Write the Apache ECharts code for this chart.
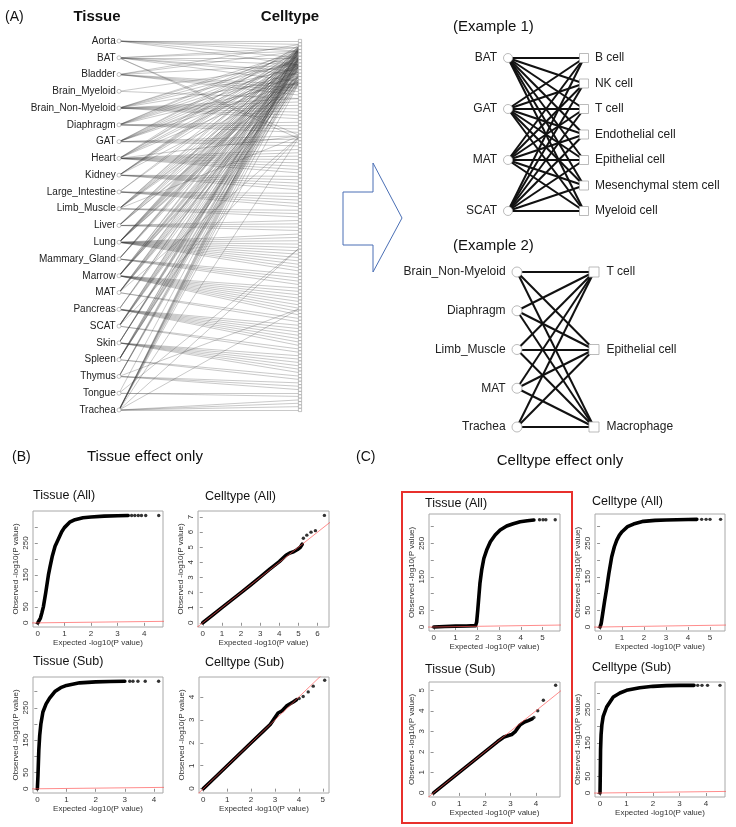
<!DOCTYPE html>
<html><head><meta charset="utf-8">
<script src="https://cdn.jsdelivr.net/npm/echarts@6/dist/echarts.min.js"></script>
<style>html,body{margin:0;padding:0;background:#fff}#c{width:736px;height:827px}</style>
</head><body><div id="c"></div>
<script>
const FONT = '"Liberation Sans", Arial, Helvetica, sans-serif';

// ---------- Panel A data ----------
const tissues = ['Aorta','BAT','Bladder','Brain_Myeloid','Brain_Non-Myeloid','Diaphragm','GAT','Heart','Kidney','Large_Intestine','Limb_Muscle','Liver','Lung','Mammary_Gland','Marrow','MAT','Pancreas','SCAT','Skin','Spleen','Thymus','Tongue','Trachea'];
const cellTypeCount = 110;
const tissueCellLinks = [
  [0,1,2,3,5,7],
  [2,3,5,7,9,10,12,28,29],
  [1,3,7,13,14,15,16],
  [7,17],
  [3,4,6,8,11,17,18,19,20,21,22,23],
  [2,3,5,7,9,12,24,25,26,27],
  [2,3,5,7,9,10,12,28,29,30,31],
  [1,3,4,7,9,12,28,32,33,34,35,36,37,38,39],
  [2,3,4,5,7,12,40,41,42,43,44],
  [4,6,45,46,47,48,49],
  [2,3,5,7,9,10,12,28,50,51,52],
  [2,3,5,7,10,11,53,54,55,56],
  [1,2,3,4,5,6,7,8,10,11,12,57,58,59,60,61,62,63,64,65,66,67,68],
  [2,3,4,5,7,69,70,71,72],
  [1,2,5,6,7,8,10,11,12,73,74,75,76,77,78,79,80,81],
  [2,3,5,7,9,10,12,28,82,83],
  [3,4,7,84,85,86,87,88,89,90],
  [2,3,5,7,9,10,12,28,91,92],
  [3,4,5,6,7,93,94,95,96,97,98],
  [1,2,5,6,8,10,11,12,99,100],
  [2,4,5,7,79,101,102,103],
  [4,61,104,105],
  [1,2,3,4,5,7,9,12,28,61,79,106,107,108,109]
];

const ex1Tissues = ['BAT','GAT','MAT','SCAT'];
const ex1Cells = ['B cell','NK cell','T cell','Endothelial cell','Epithelial cell','Mesenchymal stem cell','Myeloid cell'];
const ex1Links = [[0,1,2,3,4,5,6],[0,1,2,3,4,5,6],[0,1,2,3,4,5,6],[0,1,2,3,4,5,6]];

const ex2Tissues = ['Brain_Non-Myeloid','Diaphragm','Limb_Muscle','MAT','Trachea'];
const ex2Cells = ['T cell','Epithelial cell','Macrophage'];
const ex2Links = [[0,1,2],[0,1,2],[0,1,2],[0,1,2],[0,1,2]];

// ---------- QQ plot data ----------
const qqTitles = ['Tissue (All)','Celltype (All)','Tissue (Sub)','Celltype (Sub)','Tissue (All)','Celltype (All)','Tissue (Sub)','Celltype (Sub)'];
const refLine = [[-1,-1],[8,8]];

const bTissueAllCurve = [[0,0],[0.05,5],[0.1,15],[0.15,30],[0.21,50],[0.3,95],[0.4,150],[0.46,175],[0.55,210],[0.65,240],[0.78,263],[0.9,285],[1.0,298],[1.2,315],[1.4,323],[1.7,329],[2,331],[2.5,334],[3,335],[3.4,336]];
const bTissueAllTail = [[3.53,336],[3.65,336],[3.78,336],[3.9,336],[4.06,336],[4.55,336]];
const bCellAllCurve = [[0,0],[0.5,0.5],[1,1],[1.5,1.5],[2,2],[2.5,2.5],[3,3.02],[3.5,3.55],[4,4.05],[4.35,4.47],[4.55,4.62],[4.75,4.7],[4.95,4.85],[5.1,5.0],[5.2,5.2]];
const bCellAllTail = [[5.26,5.6],[5.44,5.8],[5.66,6.0],[5.89,6.1],[6.36,7.11]];
const bTissueSubCurve = [[0,0],[0.02,40],[0.05,120],[0.08,165],[0.12,200],[0.19,237],[0.3,262],[0.42,280],[0.6,300],[0.8,312],[1.0,319],[1.45,327],[2,330],[2.5,331],[3,332]];
const bTissueSubTail = [[3.17,332],[3.28,332],[3.45,332],[3.7,332],[4.16,332]];
const bCellSubCurve = [[0,0],[0.5,0.5],[1,1],[1.5,1.5],[2,2],[2.5,2.5],[2.8,2.8],[3.13,3.3],[3.3,3.4],[3.48,3.6],[3.6,3.68],[3.76,3.78],[3.9,3.88]];
const bCellSubTail = [[4.01,3.93],[4.18,4.02],[4.39,4.22],[4.6,4.47],[5.08,4.73]];
const cTissueAllCurve = [[0,0],[0.5,1.5],[1,2.5],[1.5,3],[1.92,4],[1.97,15],[2.02,50],[2.07,90],[2.12,130],[2.2,170],[2.3,205],[2.43,230],[2.6,255],[2.82,275],[3.05,290],[3.35,302],[3.65,309],[3.97,315],[4.3,318],[4.6,320]];
const cTissueAllTail = [[4.86,321],[5.02,321],[5.15,321],[5.58,321]];
const cCellAllCurve = [[0,0],[0.05,10],[0.12,40],[0.2,75],[0.3,115],[0.4,160],[0.53,210],[0.65,240],[0.76,260],[0.88,275],[1.0,285],[1.25,300],[1.52,308],[1.97,316],[2.5,319],[3,320],[3.5,321],[4,321.5],[4.4,322]];
const cCellAllTail = [[4.62,322],[4.82,322],[5.0,322],[5.48,322]];
const cTissueSubCurve = [[0,0],[0.5,0.5],[1,1],[1.5,1.5],[2,2],[2.5,2.5],[2.75,2.72],[2.9,2.78],[3.05,2.84],[3.2,3.0],[3.37,3.3],[3.55,3.45],[3.7,3.52],[3.85,3.6]];
const cTissueSubTail = [[3.92,3.67],[4.07,4.0],[4.29,4.51],[4.77,5.24]];
const cCellSubCurve = [[0,0],[0.01,60],[0.02,130],[0.04,175],[0.07,205],[0.12,230],[0.25,258],[0.5,288],[0.75,300],[1,308],[1.5,316],[2,320],[2.5,322],[3,323],[3.55,323]];
const cCellSubTail = [[3.69,323],[3.85,323],[4.06,323],[4.53,323]];

const qqCurves = [bTissueAllCurve,bCellAllCurve,bTissueSubCurve,bCellSubCurve,cTissueAllCurve,cCellAllCurve,cTissueSubCurve,cCellSubCurve];
const qqTails = [bTissueAllTail,bCellAllTail,bTissueSubTail,bCellSubTail,cTissueAllTail,cCellAllTail,cTissueSubTail,cCellSubTail];
const qqXRange = [[-0.18,4.71],[-0.25,6.6],[-0.15,4.31],[-0.18,5.26],[-0.22,5.8],[-0.23,5.68],[-0.18,4.94],[-0.19,4.72]];
const qqYRange = [[-13,350],[-0.28,7.4],[-13,345],[-0.19,4.87],[-12,338],[-12,338],[-0.2,5.4],[-12,333]];
const qqXTicks = [[0,1,2,3,4],[0,1,2,3,4,5,6],[0,1,2,3,4],[0,1,2,3,4,5],[0,1,2,3,4,5],[0,1,2,3,4,5],[0,1,2,3,4],[0,1,2,3,4]];
const bigYTicks = [0,50,100,150,200,250,300];
const bigYLabels = [0,50,150,250];
const qqYTicks = [bigYTicks,[0,1,2,3,4,5,6,7],bigYTicks,[0,1,2,3,4],bigYTicks,bigYTicks,[0,1,2,3,4,5],bigYTicks];
const qqYLabels = [bigYLabels,[0,1,2,3,4,5,6,7],bigYLabels,[0,1,2,3,4],bigYLabels,bigYLabels,[0,1,2,3,4,5],bigYLabels];

// ---------- layout ----------
const L = {
  A: {left:119, top:41, width:181, height:369},
  ex1: {left:508, top:58, width:76, height:153},
  ex2: {left:517, top:272, width:77, height:155},
  qq: [
    {left:33, top:511, width:130, height:116},
    {left:198, top:511, width:131, height:116},
    {left:33, top:677, width:130, height:116},
    {left:199, top:677, width:130, height:116},
    {left:429, top:514, width:131, height:117},
    {left:595, top:514, width:130, height:117},
    {left:429, top:682, width:131, height:115},
    {left:595, top:682, width:130, height:115}
  ],
  qqTitlePos: [[33,496],[205,497],[33,662],[205,663],[425,504],[592,502],[425,670],[592,668]]
};

const grids = [], xAxes = [], yAxes = [], series = [];
function hiddenCoord(box){
  grids.push(Object.assign({show:false, outerBoundsMode:'none', containLabel:false}, box));
  const gi = grids.length-1;
  xAxes.push({type:'value', gridIndex:gi, min:0, max:1, show:false});
  yAxes.push({type:'value', gridIndex:gi, min:0, max:1, inverse:true, show:false});
  return gi;
}

function bipartite(box, leftNames, rightNames, links, opt){
  const gi = hiddenCoord(box);
  const nodes = [];
  leftNames.forEach((n,i)=>nodes.push({
    name:'L_'+n, value:[0, leftNames.length>1 ? i/(leftNames.length-1) : 0],
    symbol:'circle', symbolSize:opt.lSize,
    itemStyle:{color:'#fff', borderColor:opt.nodeBorder, borderWidth:opt.nodeBorderW},
    label:{show:true, position:'left', distance:opt.lDist, formatter:n, fontSize:opt.fontSize, color:'#222', fontFamily:FONT}
  }));
  rightNames.forEach((n,j)=>nodes.push({
    name:'R_'+n, value:[1, rightNames.length>1 ? j/(rightNames.length-1) : 0],
    symbol:'rect', symbolSize:opt.rSize,
    itemStyle:{color:'#fff', borderColor:opt.nodeBorder, borderWidth:opt.nodeBorderW},
    label:{show:opt.rLabel, position:'right', distance:opt.rDist, formatter:n, fontSize:opt.fontSize, color:'#222', fontFamily:FONT}
  }));
  const edges = [];
  links.forEach((list,i)=>list.forEach(j=>edges.push({source:'L_'+leftNames[i], target:'R_'+rightNames[j]})));
  series.push({
    type:'graph', layout:'none', coordinateSystem:'cartesian2d', xAxisIndex:gi, yAxisIndex:gi,
    data:nodes, links:edges, roam:false, silent:true, animation:false,
    lineStyle:{color:opt.edgeColor, width:opt.edgeWidth, opacity:opt.edgeOpacity, curveness:0},
    emphasis:{disabled:true}, z:2
  });
}

const cellTypeIds = Array.from({length:cellTypeCount}, (_,j)=>'ct'+j);
bipartite(L.A, tissues, cellTypeIds, tissueCellLinks,
  {lSize:4, rSize:3.2, nodeBorder:'#999', nodeBorderW:0.6, lDist:1, rDist:3, fontSize:10, rLabel:false,
   edgeColor:'#3a3a3a', edgeWidth:0.55, edgeOpacity:0.5});
bipartite(L.ex1, ex1Tissues, ex1Cells, ex1Links,
  {lSize:9, rSize:9, nodeBorder:'#aaa', nodeBorderW:0.8, lDist:6, rDist:6, fontSize:12, rLabel:true,
   edgeColor:'#111', edgeWidth:2, edgeOpacity:1});
bipartite(L.ex2, ex2Tissues, ex2Cells, ex2Links,
  {lSize:10, rSize:10, nodeBorder:'#aaa', nodeBorderW:0.8, lDist:6, rDist:7, fontSize:12, rLabel:true,
   edgeColor:'#111', edgeWidth:2, edgeOpacity:1});

// QQ plots
qqCurves.forEach((curve,k)=>{
  grids.push(Object.assign({show:true, borderColor:'#a8a8a8', borderWidth:1, backgroundColor:'transparent', outerBoundsMode:'none', containLabel:false}, L.qq[k]));
  const gi = grids.length-1;
  const axCommon = {
    axisLine:{show:false}, splitLine:{show:false},
    axisTick:{show:true, inside:false, length:3, lineStyle:{color:'#777', width:0.8}},
    nameLocation:'middle', nameTextStyle:{fontSize:8, color:'#333', fontFamily:FONT}
  };
  xAxes.push(Object.assign({}, axCommon, {
    type:'value', gridIndex:gi, min:qqXRange[k][0], max:qqXRange[k][1],
    axisTick:Object.assign({}, axCommon.axisTick, {customValues:qqXTicks[k]}),
    axisLabel:{customValues:qqXTicks[k], fontSize:8, color:'#333', margin:3, fontFamily:FONT, showMinLabel:true, showMaxLabel:true},
    name:'Expected -log10(P value)', nameGap:12
  }));
  yAxes.push(Object.assign({}, axCommon, {
    type:'value', gridIndex:gi, min:qqYRange[k][0], max:qqYRange[k][1],
    axisTick:Object.assign({}, axCommon.axisTick, {customValues:qqYTicks[k]}),
    axisLabel:{customValues:qqYLabels[k], fontSize:8, color:'#333', margin:3, rotate:90, fontFamily:FONT},
    name:'Observed -log10(P value)', nameGap:13, nameRotate:90
  }));
  series.push({type:'line', xAxisIndex:gi, yAxisIndex:gi, data:curve, showSymbol:false, symbol:'none',
    lineStyle:{color:'#000', width:3.6, cap:'round', join:'round'}, clip:true, silent:true, animation:false, z:2});
  series.push({type:'scatter', xAxisIndex:gi, yAxisIndex:gi, data:qqTails[k], symbolSize:3.4,
    itemStyle:{color:'#000'}, silent:true, animation:false, z:2});
  series.push({type:'line', xAxisIndex:gi, yAxisIndex:gi, data:refLine, showSymbol:false, symbol:'none',
    lineStyle:{color:'#ff5555', width:0.8, opacity:0.85}, clip:true, silent:true, animation:false, z:3});
});

function txt(s, x, y, size, weight, align){
  return {type:'text', x:x, y:y, silent:true, z:10,
    style:{text:s, fontSize:size, fontWeight:weight||'normal', fontFamily:FONT, fill:'#111',
      align:align||'left', verticalAlign:'middle'}};
}
const graphics = [
  txt('(A)', 5, 17, 14),
  txt('Tissue', 97, 17, 15, 'bold', 'center'),
  txt('Celltype', 290, 17, 15, 'bold', 'center'),
  txt('(Example 1)', 453, 27, 15),
  txt('(Example 2)', 453, 246, 15),
  txt('(B)', 12, 457, 14),
  txt('Tissue effect only', 87, 457, 15),
  txt('(C)', 356, 457, 14),
  txt('Celltype effect only', 560, 461, 15, 'normal', 'center'),
  {type:'polygon', silent:true, z:10, shape:{points:[[343,192],[373,192],[373,163],[402,218],[373,272],[373,245],[343,245]]},
    style:{fill:'none', stroke:'#4a6fb5', lineWidth:1}},
  {type:'rect', silent:true, z:10, shape:{x:402, y:492, width:170, height:331},
    style:{fill:'none', stroke:'#e8302c', lineWidth:2}}
];
qqTitles.forEach((t,k)=>graphics.push(txt(t, L.qqTitlePos[k][0], L.qqTitlePos[k][1], 12.5)));

const chart = echarts.init(document.getElementById('c'), null, {renderer:'canvas'});
chart.setOption({
  animation:false,
  backgroundColor:'#fff',
  grid:grids, xAxis:xAxes, yAxis:yAxes, series:series, graphic:graphics
});
</script></body></html>
